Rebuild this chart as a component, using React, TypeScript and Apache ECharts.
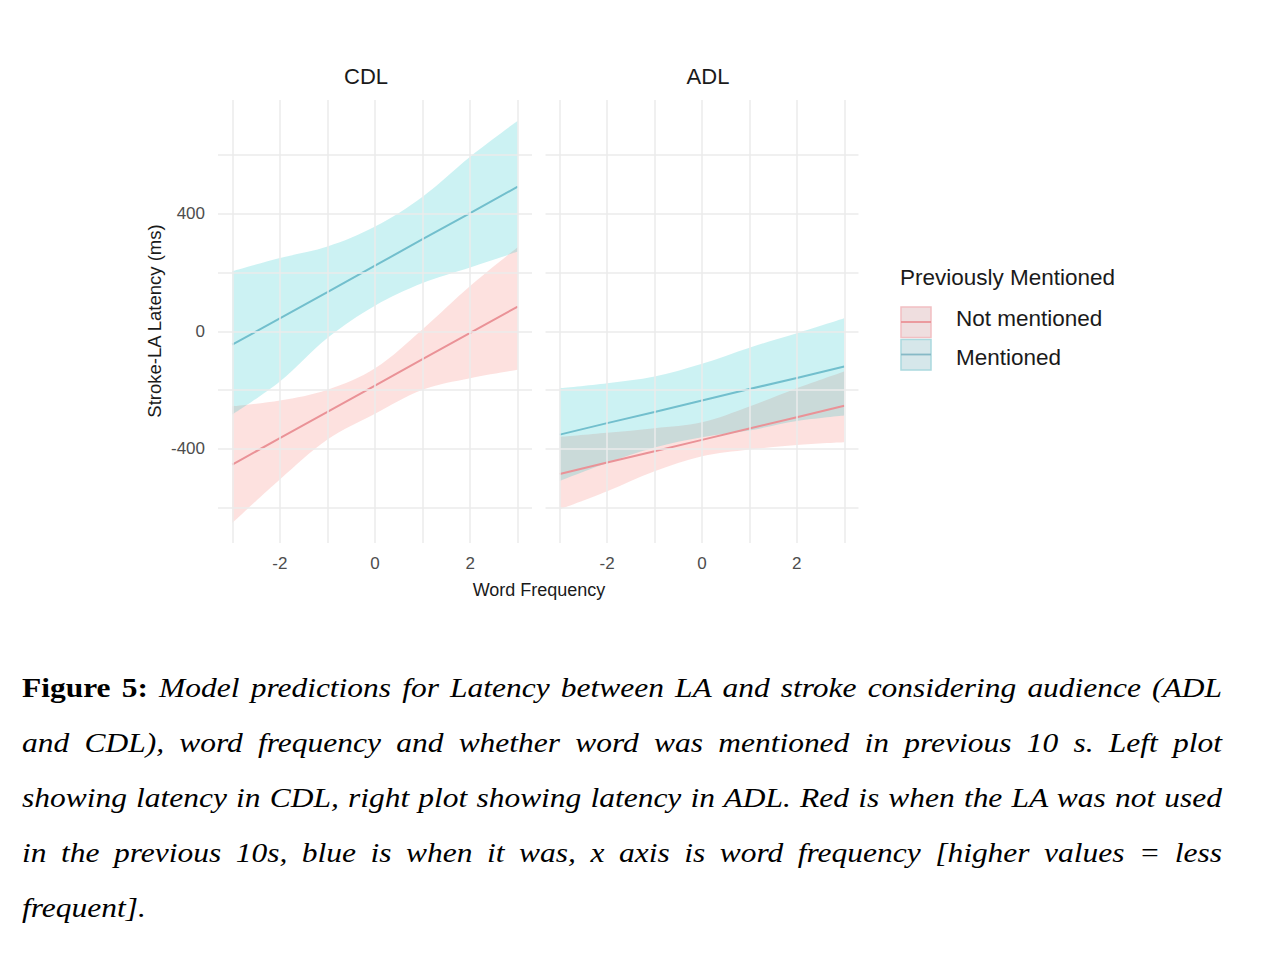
import React, { useEffect, useRef } from "react";
import * as echarts from "echarts";

// ---------- data ----------
const xValues = [-3, -2, -1, 0, 1, 2, 3];

// CDL panel
const cdlNotFit = [-453, -363, -274, -184, -94, -5, 85];
const cdlNotLower = [-652, -504, -368, -280, -198, -159, -130];
const cdlNotUpper = [-255, -235, -198, -125, 8, 155, 287];
const cdlMenFit = [-45, 45, 134, 224, 314, 403, 493];
const cdlMenLower = [-283, -170, -22, 88, 165, 218, 272];
const cdlMenUpper = [205, 250, 289, 357, 459, 595, 717];

// ADL panel
const adlNotFit = [-485, -446, -408, -369, -330, -292, -253];
const adlNotLower = [-606, -544, -476, -425, -402, -386, -377];
const adlNotUpper = [-359, -345, -329, -309, -255, -193, -136];
const adlMenFit = [-351, -312, -274, -235, -196, -158, -119];
const adlMenLower = [-509, -448, -395, -360, -337, -305, -286];
const adlMenUpper = [-193, -176, -153, -110, -55, -6, 45];

const panelTitles = ["CDL", "ADL"];
const groupNames = ["Not mentioned", "Mentioned"];
const legendTitle = "Previously Mentioned";
const xAxisTitle = "Word Frequency";
const yAxisTitle = "Stroke-LA Latency (ms)";

const xTickLabels = [-2, 0, 2];
const yTickLabels = [-400, 0, 400];
const xGridValues = [-3, -2, -1, 0, 1, 2, 3];
const yGridValues = [-600, -400, -200, 0, 200, 400, 600];

const captionLines = [
  "Model predictions for Latency between LA and stroke considering audience (ADL",
  "and CDL), word frequency and whether word was mentioned in previous 10 s. Left plot",
  "showing latency in CDL, right plot showing latency in ADL. Red is when the LA was not used",
  "in the previous 10s, blue is when it was, x axis is word frequency [higher values = less",
  "frequent].",
];
const captionLabel = "Figure 5:";

// ---------- styles / layout ----------
const SANS = "'Liberation Sans', Arial, Helvetica, sans-serif";
const RED_FILL = "rgba(248,118,109,0.22)";
const BLUE_FILL = "rgba(0,191,196,0.20)";
const RED_LINE = "#EA9297";
const BLUE_LINE = "#72BFCD";
const GRID_COLOR = "#EBEBEB";
const SMOOTH = 0.35;
const X_MIN = -3.3;
const X_MAX = 3.3;
const Y_MIN = -720;
const Y_MAX = 788;
const PANELS = [
  { left: 218, width: 314 },
  { left: 545.5, width: 313 },
];
const PANEL_TOP = 100;
const PANEL_HEIGHT = 443;

function innerGrid(p: { left: number; width: number }) {
  const unit = p.width / (X_MAX - X_MIN);
  return {
    left: p.left + (xValues[0] - X_MIN) * unit,
    width: (xValues[xValues.length - 1] - xValues[0]) * unit,
    top: PANEL_TOP,
    height: PANEL_HEIGHT,
  };
}

function ribbonSeries(idx: number, key: string, lower: number[], upper: number[], fill: string, z: number) {
  const base = {
    type: "line",
    xAxisIndex: idx + 2,
    yAxisIndex: idx + 2,
    z,
    silent: true,
    symbol: "none",
    showSymbol: false,
    smooth: SMOOTH,
    stack: key,
    stackStrategy: "all",
    lineStyle: { opacity: 0, width: 0 },
  };
  return [
    { ...base, data: lower.slice() },
    {
      ...base,
      data: upper.map((u, i) => u - lower[i]),
      areaStyle: { color: fill, opacity: 1 },
    },
  ];
}

function fitSeries(idx: number, fit: number[], color: string, z: number) {
  return {
    type: "line",
    xAxisIndex: idx,
    yAxisIndex: idx,
    z,
    silent: true,
    showSymbol: false,
    symbol: "none",
    data: xValues.map((x, i) => [x, fit[i]]),
    lineStyle: { color, width: 2 },
  };
}

function gridSeries(idx: number) {
  return {
    type: "line",
    xAxisIndex: idx,
    yAxisIndex: idx,
    z: 1,
    silent: true,
    symbol: "none",
    data: xValues.map((x) => [x, 0]),
    lineStyle: { opacity: 0 },
    markLine: {
      silent: true,
      symbol: ["none", "none"],
      label: { show: false },
      lineStyle: { color: GRID_COLOR, width: 1.5, type: "solid" },
      emphasis: { disabled: true },
      data: [
        ...xGridValues.map((v) => ({ xAxis: v })),
        ...yGridValues.map((v) => ({ yAxis: v })),
      ],
    },
  };
}

function Chart() {
  const ref = useRef<HTMLDivElement>(null);
  useEffect(() => {
    if (!ref.current) return;
    const chart = echarts.init(ref.current, undefined, { renderer: "svg" });
    const xAxisBase = {
      type: "value",
      min: X_MIN,
      max: X_MAX,
      axisLine: { show: false },
      axisTick: { show: false },
      splitLine: { show: false },
      axisLabel: {
        customValues: xTickLabels,
        color: "#4D4D4D",
        fontSize: 17,
        fontFamily: SANS,
        margin: 12,
      },
    };
    const yAxisBase = {
      type: "value",
      min: Y_MIN,
      max: Y_MAX,
      axisLine: { show: false },
      axisTick: { show: false },
      splitLine: { show: false },
    };
    const hiddenCat = {
      type: "category",
      data: xValues.map(String),
      boundaryGap: false,
      show: false,
    };
    const hiddenY = { ...yAxisBase, show: false };
    const txt = (text: string, x: number, y: number, size: number, align: string, extra: any = {}) => ({
      type: "text",
      x,
      y,
      ...extra,
      style: { text, fontSize: size, fontFamily: SANS, fill: "#1A1A1A", textAlign: align, textVerticalAlign: "middle" },
    });
    chart.setOption({
      animation: false,
      grid: [
        { left: PANELS[0].left, top: PANEL_TOP, width: PANELS[0].width, height: PANEL_HEIGHT },
        { left: PANELS[1].left, top: PANEL_TOP, width: PANELS[1].width, height: PANEL_HEIGHT },
        innerGrid(PANELS[0]),
        innerGrid(PANELS[1]),
      ],
      xAxis: [
        { ...xAxisBase, gridIndex: 0 },
        { ...xAxisBase, gridIndex: 1 },
        { ...hiddenCat, gridIndex: 2 },
        { ...hiddenCat, gridIndex: 3 },
      ],
      yAxis: [
        {
          ...yAxisBase,
          gridIndex: 0,
          axisLabel: {
            customValues: yTickLabels,
            color: "#4D4D4D",
            fontSize: 17,
            fontFamily: SANS,
            margin: 13,
          },
        },
        { ...yAxisBase, gridIndex: 1, axisLabel: { show: false } },
        { ...hiddenY, gridIndex: 2 },
        { ...hiddenY, gridIndex: 3 },
      ],
      series: [
        gridSeries(0),
        gridSeries(1),
        ...ribbonSeries(0, "cdlNot", cdlNotLower, cdlNotUpper, RED_FILL, 2),
        ...ribbonSeries(0, "cdlMen", cdlMenLower, cdlMenUpper, BLUE_FILL, 3),
        ...ribbonSeries(1, "adlNot", adlNotLower, adlNotUpper, RED_FILL, 2),
        ...ribbonSeries(1, "adlMen", adlMenLower, adlMenUpper, BLUE_FILL, 3),
        fitSeries(0, cdlNotFit, RED_LINE, 4),
        fitSeries(0, cdlMenFit, BLUE_LINE, 4),
        fitSeries(1, adlNotFit, RED_LINE, 4),
        fitSeries(1, adlMenFit, BLUE_LINE, 4),
      ],
      graphic: [
        txt(panelTitles[0], 366, 76, 22, "center"),
        txt(panelTitles[1], 708, 76, 22, "center"),
        txt(xAxisTitle, 539, 590, 18, "center"),
        txt(yAxisTitle, 154, 321, 18.5, "center", { rotation: Math.PI / 2 }),
        txt(legendTitle, 900, 277, 22.5, "left"),
        {
          type: "rect",
          shape: { x: 901, y: 307, width: 30, height: 30.5 },
          style: { fill: "#EFDEDF", stroke: "#F2BFC2", lineWidth: 1.5 },
        },
        {
          type: "line",
          shape: { x1: 901, y1: 322, x2: 931, y2: 322 },
          style: { stroke: RED_LINE, lineWidth: 1.8 },
        },
        {
          type: "rect",
          shape: { x: 901, y: 339.5, width: 30, height: 30.5 },
          style: { fill: "#D6E7EA", stroke: "#ABD9DE", lineWidth: 1.5 },
        },
        {
          type: "line",
          shape: { x1: 901, y1: 354.5, x2: 931, y2: 354.5 },
          style: { stroke: "#86B9C6", lineWidth: 1.8 },
        },
        txt(groupNames[0], 956, 318, 22.5, "left"),
        txt(groupNames[1], 956, 357, 22.5, "left"),
      ],
    });
    return () => chart.dispose();
  }, []);
  return <div ref={ref} style={{ position: "absolute", left: 0, top: 0, width: 1264, height: 640 }} />;
}

export default function App() {
  const capWidth = 1068;
  const scale = 1200 / capWidth;
  return (
    <div style={{ position: "absolute", left: 0, top: 0, width: 1264, height: 966, background: "#fff", overflow: "hidden" }}>
      <Chart />
      <div
        style={{
          position: "absolute",
          left: 22,
          top: 660,
          width: capWidth,
          transform: `scaleX(${scale})`,
          transformOrigin: "left top",
          fontFamily: "'Liberation Serif', 'Times New Roman', serif",
          fontSize: 28,
          lineHeight: "55px",
          color: "#000",
        }}
      >
        {captionLines.map((line, i) => (
          <div
            key={i}
            style={{
              textAlign: "justify",
              textAlignLast: i === captionLines.length - 1 ? "left" : "justify",
            }}
          >
            {i === 0 ? (
              <>
                <b style={{ fontStyle: "normal" }}>{captionLabel}</b> <i>{line}</i>
              </>
            ) : (
              <i>{line}</i>
            )}
          </div>
        ))}
      </div>
    </div>
  );
}
